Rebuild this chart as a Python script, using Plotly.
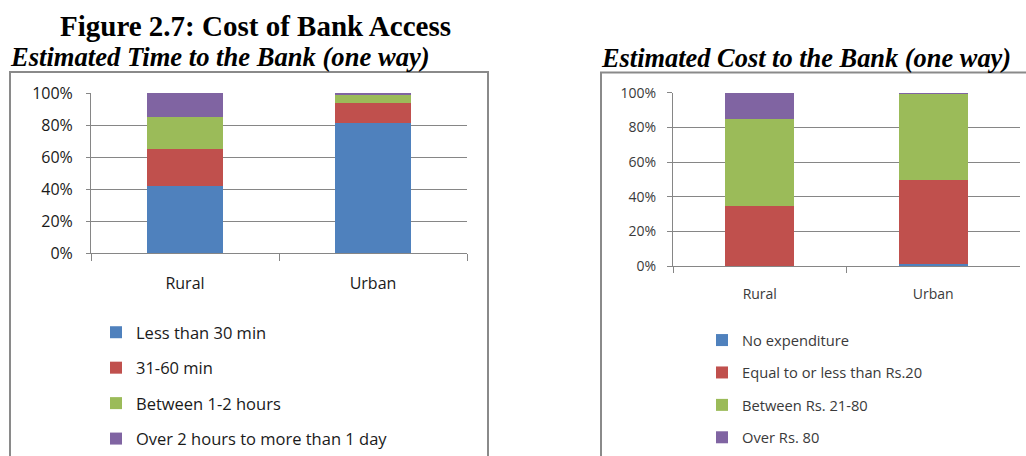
import plotly.graph_objects as go

W, H = 1026, 456

categories = ["Rural", "Urban"]

# Estimated time to the bank (one way), % of respondents
time_series_names = ["Less than 30 min", "31-60 min", "Between 1-2 hours",
                     "Over 2 hours to more than 1 day"]
time_less30 = [42, 81]
time_31_60 = [23, 12.5]
time_1_2h = [20, 5]
time_over2h = [15, 1.5]

# Estimated cost to the bank (one way), % of respondents
cost_series_names = ["No expenditure", "Equal to or less than Rs.20",
                     "Between Rs. 21-80", "Over Rs. 80"]
cost_none = [0, 1]
cost_le20 = [34.5, 48.5]
cost_21_80 = [50.5, 50]
cost_over80 = [15, 0.5]

y_ticks = [0, 20, 40, 60, 80, 100]
y_tick_labels = ["0%", "20%", "40%", "60%", "80%", "100%"]

colors = ["#4F81BD", "#C0504D", "#9BBB59", "#8064A2"]


def px(x):
    return x / W


def py(y):
    return 1 - y / H


fig = go.Figure()

for i, (name, vals) in enumerate(zip(time_series_names,
                                     [time_less30, time_31_60, time_1_2h, time_over2h])):
    fig.add_trace(go.Bar(x=categories, y=vals, name=name, marker_color=colors[i],
                         marker_line_width=0, xaxis="x", yaxis="y",
                         legend="legend", legendgroup="t%d" % i))

for i, (name, vals) in enumerate(zip(cost_series_names,
                                     [cost_none, cost_le20, cost_21_80, cost_over80])):
    fig.add_trace(go.Bar(x=categories, y=vals, name=name, marker_color=colors[i],
                         marker_line_width=0, xaxis="x2", yaxis="y2",
                         legend="legend2", legendgroup="c%d" % i))

grid = "#868686"
axis_common = dict(showline=True, linecolor=grid, linewidth=1, ticks="outside",
                   tickcolor=grid, fixedrange=True, automargin=False)

fig.update_layout(
    width=W, height=H,
    margin=dict(l=0, r=0, t=0, b=0, autoexpand=False),
    paper_bgcolor="white", plot_bgcolor="white",
    barmode="stack", bargap=0.6,
    showlegend=True,
    xaxis=dict(domain=[px(91), px(467)], anchor="y", tickson="boundaries",
               ticklen=7, ticklabelstandoff=16,
               tickfont=dict(family="Open Sans", size=16, color="#1a1a1a"),
               **axis_common),
    yaxis=dict(domain=[py(253), py(93)], anchor="x", range=[0, 100],
               tickmode="array", tickvals=y_ticks, ticktext=y_tick_labels,
               ticklen=4, ticklabelstandoff=10,
               showgrid=True, gridcolor=grid, gridwidth=1, zeroline=False,
               tickfont=dict(family="Open Sans", size=16, color="#1a1a1a"),
               **axis_common),
    xaxis2=dict(domain=[px(673), px(1020)], anchor="y2", tickson="boundaries",
                ticklen=6, ticklabelstandoff=15,
                tickfont=dict(family="Open Sans", size=14, color="#3a3a3a"),
                **axis_common),
    yaxis2=dict(domain=[py(266), py(92.7)], anchor="x2", range=[0, 100],
                tickmode="array", tickvals=y_ticks, ticktext=y_tick_labels,
                ticklen=5, ticklabelstandoff=8,
                showgrid=True, gridcolor=grid, gridwidth=1, zeroline=False,
                tickfont=dict(family="Open Sans", size=14, color="#3a3a3a"),
                **axis_common),
    legend=dict(x=px(96), y=py(315), xanchor="left", yanchor="top",
                traceorder="grouped", tracegroupgap=11,
                font=dict(family="Open Sans", size=16.5, color="#1a1a1a"),
                bgcolor="rgba(0,0,0,0)", itemclick=False, itemdoubleclick=False),
    legend2=dict(x=px(702), y=py(324), xanchor="left", yanchor="top",
                 traceorder="grouped", tracegroupgap=10.3,
                 font=dict(family="Open Sans", size=14.7, color="#3a3a3a"),
                 bgcolor="rgba(0,0,0,0)", itemclick=False, itemdoubleclick=False),
    shapes=[
        dict(type="rect", xref="paper", yref="paper", x0=px(10), x1=px(488),
             y0=py(470), y1=py(72), line=dict(color="#8a8a8a", width=2),
             layer="below"),
        dict(type="rect", xref="paper", yref="paper", x0=px(601), x1=px(1040),
             y0=py(470), y1=py(72.5), line=dict(color="#8a8a8a", width=2),
             layer="below"),
    ],
    annotations=[
        dict(text="<b>Figure 2.7: Cost of Bank Access</b>", xref="paper", yref="paper",
             x=px(255.5), y=py(26), xanchor="center", yanchor="middle", showarrow=False,
             font=dict(family="Liberation Serif", size=29, color="black")),
        dict(text="<b><i>Estimated Time to the Bank (one way)</i></b>", xref="paper",
             yref="paper", x=px(8), y=py(57), xanchor="left", yanchor="middle",
             showarrow=False,
             font=dict(family="Liberation Serif", size=26.6, color="black")),
        dict(text="<b><i>Estimated Cost to the Bank (one way)</i></b>", xref="paper",
             yref="paper", x=px(599), y=py(58), xanchor="left", yanchor="middle",
             showarrow=False,
             font=dict(family="Liberation Serif", size=26.4, color="black")),
    ],
)

fig.write_html("out.html")
